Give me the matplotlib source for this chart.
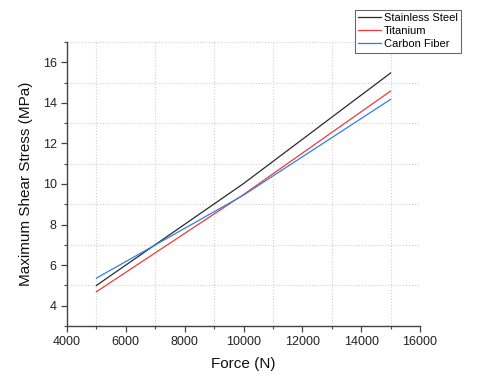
import matplotlib
matplotlib.use("Agg")
import matplotlib.pyplot as plt
from matplotlib.ticker import MultipleLocator

plt.rcParams["font.family"] = ["Liberation Sans", "DejaVu Sans"]

force = [5000, 10000, 15000]
steel = [5.0, 10.02, 15.47]
titanium = [4.69, 9.48, 14.58]
carbon = [5.36, 9.45, 14.17]

fig = plt.figure(figsize=(4.8, 3.85), dpi=100)
ax = fig.add_axes([0.1396, 0.1532, 0.7354, 0.7378])

l1, = ax.plot(force, steel, color="#2b2b2b", lw=0.9, label="Stainless Steel")
l2, = ax.plot(force, titanium, color="#f03a3a", lw=0.9, label="Titanium")
l3, = ax.plot(force, carbon, color="#2f7fe8", lw=0.9, label="Carbon Fiber")

ax.set_xlim(4000, 16000)
ax.set_ylim(3, 17)
ax.xaxis.set_major_locator(MultipleLocator(2000))
ax.xaxis.set_minor_locator(MultipleLocator(1000))
ax.yaxis.set_minor_locator(MultipleLocator(1))
ax.set_yticks([4, 6, 8, 10, 12, 14, 16])

ax.grid(which="minor", ls=":", color="#d0d0d0", lw=0.8)
ax.spines["top"].set_visible(False)
ax.spines["right"].set_visible(False)
for s in ("left", "bottom"):
    ax.spines[s].set_color("#444444")
    ax.spines[s].set_linewidth(1.0)
ax.tick_params(which="major", direction="out", length=4, width=0.9,
               colors="#444444", labelcolor="#222222", labelsize=9)
ax.tick_params(which="minor", direction="out", length=2.5, width=0.8,
               colors="#444444")

ax.set_xlabel("Force (N)", fontsize=11, color="#111111", labelpad=6)
ax.set_ylabel("Maximum Shear Stress (MPa)", fontsize=11, color="#111111", labelpad=7)

leg = fig.legend(handles=[l1, l2, l3], loc="upper right",
                 bbox_to_anchor=(0.961, 0.975), fontsize=8, frameon=True,
                 fancybox=False, borderpad=0.3, labelspacing=0.28,
                 handlelength=2.1, handletextpad=0.25, borderaxespad=0)
leg.get_frame().set_edgecolor("#444444")
leg.get_frame().set_linewidth(0.8)

fig.savefig("out.png", dpi=100)
